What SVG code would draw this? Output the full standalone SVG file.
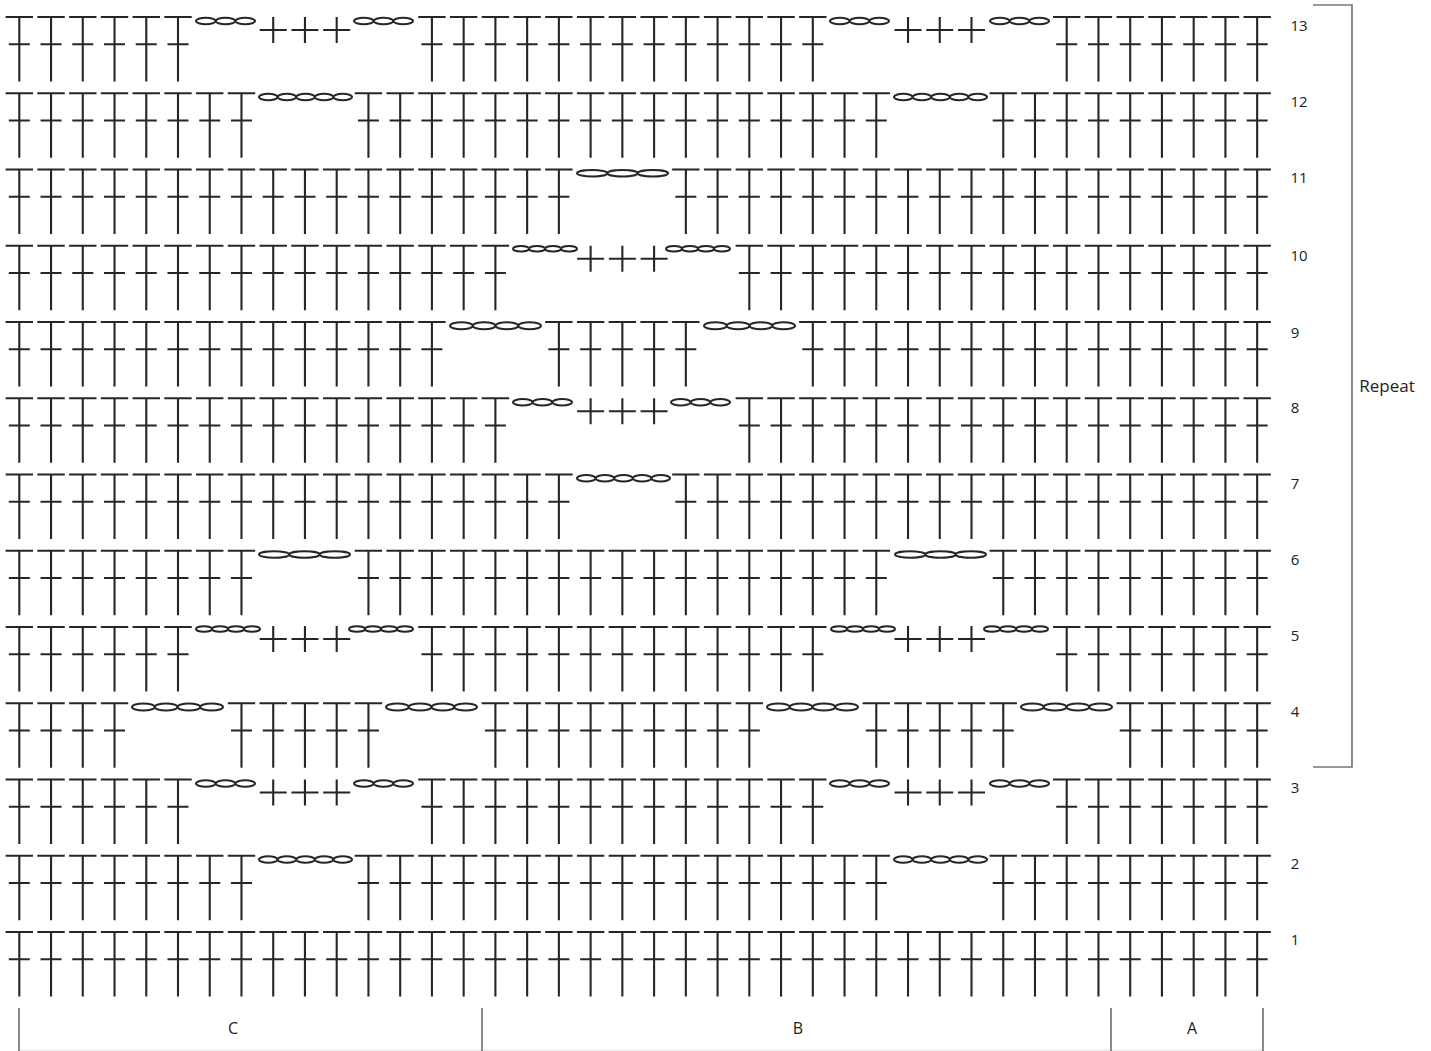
<svg xmlns="http://www.w3.org/2000/svg" width="1431" height="1051" viewBox="0 0 1431 1051">
<style>
.s{fill:none;stroke:#262626;stroke-width:2.1}
.c{fill:none;stroke:#262626;stroke-width:2}
.g{fill:none;stroke:#777;stroke-width:1.7}
.l{fill:none;stroke:#e2e2e2;stroke-width:1}
.row{filter:url(#soft)}
text{font-family:"Open Sans","Noto Sans","Liberation Sans",sans-serif;font-size:15px;fill:#222;text-anchor:middle;dominant-baseline:central}
.big{font-size:16px}
.rep{font-size:17px}
</style>
<defs>
<filter id="soft" x="-2%" y="-10%" width="104%" height="120%"><feGaussianBlur stdDeviation="0.35"/></filter>
<path id="t1" class="s" d="M-13.7 0H13.7M0 0V64.5M-10.5 27.3H10.5"/>
<path id="p" class="s" d="M0 0V26M-13.5 13H13.5"/>
<g id="t2"><use href="#t1"/><use href="#t1" x="31.74"/></g>
<g id="t4"><use href="#t2"/><use href="#t2" x="63.48"/></g>
<g id="t8"><use href="#t4"/><use href="#t4" x="126.96"/></g>
<g id="t16"><use href="#t8"/><use href="#t8" x="253.92"/></g>
<g id="t5"><use href="#t4"/><use href="#t1" x="126.96"/></g>
<g id="t6"><use href="#t4"/><use href="#t2" x="126.96"/></g>
<g id="t7"><use href="#t6"/><use href="#t1" x="190.44"/></g>
<g id="t9"><use href="#t8"/><use href="#t1" x="253.92"/></g>
<g id="t13"><use href="#t8"/><use href="#t5" x="253.92"/></g>
<g id="t14"><use href="#t8"/><use href="#t6" x="253.92"/></g>
<g id="t15"><use href="#t8"/><use href="#t7" x="253.92"/></g>
<g id="t17"><use href="#t16"/><use href="#t1" x="507.84"/></g>
<g id="t18"><use href="#t16"/><use href="#t2" x="507.84"/></g>
<g id="t19"><use href="#t18"/><use href="#t1" x="571.32"/></g>
<g id="t40"><use href="#t16"/><use href="#t16" x="507.84"/><use href="#t8" x="1015.68"/></g>
<g id="p3"><use href="#p"/><use href="#p" x="31.74"/><use href="#p" x="63.48"/></g>
<g id="c3" class="c"><ellipse cx="9.8" cy="0" rx="9.8" ry="3.2"/><ellipse cx="29.5" cy="0" rx="9.8" ry="3.2"/><ellipse cx="49.2" cy="0" rx="9.8" ry="3.2"/></g>
<g id="c3L" class="c"><ellipse cx="15.2" cy="0" rx="15.2" ry="3.2"/><ellipse cx="45.5" cy="0" rx="15.2" ry="3.2"/><ellipse cx="75.8" cy="0" rx="15.2" ry="3.2"/></g>
<g id="c4s" class="c"><ellipse cx="8" cy="0" rx="8" ry="2.8"/><ellipse cx="24" cy="0" rx="8" ry="2.8"/><ellipse cx="40" cy="0" rx="8" ry="2.8"/><ellipse cx="56" cy="0" rx="8" ry="2.8"/></g>
<g id="c4L" class="c"><ellipse cx="11.4" cy="0" rx="11.4" ry="3.5"/><ellipse cx="34.1" cy="0" rx="11.4" ry="3.5"/><ellipse cx="56.9" cy="0" rx="11.4" ry="3.5"/><ellipse cx="79.6" cy="0" rx="11.4" ry="3.5"/></g>
<g id="c5" class="c"><ellipse cx="9.3" cy="0" rx="9.3" ry="3.2"/><ellipse cx="27.9" cy="0" rx="9.3" ry="3.2"/><ellipse cx="46.5" cy="0" rx="9.3" ry="3.2"/><ellipse cx="65.1" cy="0" rx="9.3" ry="3.2"/><ellipse cx="83.7" cy="0" rx="9.3" ry="3.2"/></g>
</defs>
<rect width="1431" height="1051" fill="#fff"/>
<g id="row-13" transform="translate(0,17)"><g class="row"><use href="#t6" x="19.3"/><use href="#c3" x="196" y="4"/><use href="#p3" x="273.22"/><use href="#c3" x="354" y="4"/><use href="#t13" x="431.92"/><use href="#c3" x="830" y="4"/><use href="#p3" x="908.02"/><use href="#c3" x="990" y="4"/><use href="#t7" x="1066.72"/></g><text x="1299" y="8">13</text></g>
<g id="row-12" transform="translate(0,93.25)"><g class="row"><use href="#t8" x="19.3"/><use href="#c5" x="259" y="3.7"/><use href="#t17" x="368.44"/><use href="#c5" x="894" y="3.7"/><use href="#t9" x="1003.24"/></g><text x="1299" y="8">12</text></g>
<g id="row-11" transform="translate(0,169.5)"><g class="row"><use href="#t18" x="19.3"/><use href="#c3L" x="577" y="3.7"/><use href="#t19" x="685.84"/></g><text x="1299" y="7.5">11</text></g>
<g id="row-10" transform="translate(0,245.75)"><g class="row"><use href="#t16" x="19.3"/><use href="#c4s" x="513" y="3"/><use href="#p3" x="590.62"/><use href="#c4s" x="666" y="3"/><use href="#t17" x="749.32"/></g><text x="1299" y="9">10</text></g>
<g id="row-9" transform="translate(0,322)"><g class="row"><use href="#t14" x="19.3"/><use href="#c4L" x="450" y="3.7"/><use href="#t5" x="558.88"/><use href="#c4L" x="704" y="3.7"/><use href="#t15" x="812.8"/></g><text x="1295" y="9.5">9</text></g>
<g id="row-8" transform="translate(0,398.25)"><g class="row"><use href="#t16" x="19.3"/><use href="#c3" x="513" y="4"/><use href="#p3" x="590.62"/><use href="#c3" x="671" y="4"/><use href="#t17" x="749.32"/></g><text x="1295" y="9">8</text></g>
<g id="row-7" transform="translate(0,474.5)"><g class="row"><use href="#t18" x="19.3"/><use href="#c5" x="577" y="3.7"/><use href="#t19" x="685.84"/></g><text x="1295" y="8">7</text></g>
<g id="row-6" transform="translate(0,550.75)"><g class="row"><use href="#t8" x="19.3"/><use href="#c3L" x="259" y="3.7"/><use href="#t17" x="368.44"/><use href="#c3L" x="895" y="3.7"/><use href="#t9" x="1003.24"/></g><text x="1295" y="8">6</text></g>
<g id="row-5" transform="translate(0,627)"><g class="row"><use href="#t6" x="19.3"/><use href="#c4s" x="196" y="2"/><use href="#p3" x="273.22" y="-1"/><use href="#c4s" x="349" y="2"/><use href="#t13" x="431.92"/><use href="#c4s" x="831" y="2"/><use href="#p3" x="908.02" y="-1"/><use href="#c4s" x="984" y="2"/><use href="#t7" x="1066.72"/></g><text x="1295" y="7.5">5</text></g>
<g id="row-4" transform="translate(0,703.25)"><g class="row"><use href="#t4" x="19.3"/><use href="#c4L" x="132" y="3.7"/><use href="#t5" x="241.48"/><use href="#c4L" x="386" y="3.7"/><use href="#t9" x="495.4"/><use href="#c4L" x="767" y="3.7"/><use href="#t5" x="876.28"/><use href="#c4L" x="1021" y="3.7"/><use href="#t5" x="1130.2"/></g><text x="1295" y="7.5">4</text></g>
<g id="row-3" transform="translate(0,779.5)"><g class="row"><use href="#t6" x="19.3"/><use href="#c3" x="196" y="4"/><use href="#p3" x="273.22"/><use href="#c3" x="354" y="4"/><use href="#t13" x="431.92"/><use href="#c3" x="830" y="4"/><use href="#p3" x="908.02"/><use href="#c3" x="990" y="4"/><use href="#t7" x="1066.72"/></g><text x="1295" y="7">3</text></g>
<g id="row-2" transform="translate(0,855.75)"><g class="row"><use href="#t8" x="19.3"/><use href="#c5" x="259" y="3.7"/><use href="#t17" x="368.44"/><use href="#c5" x="894" y="3.7"/><use href="#t9" x="1003.24"/></g><text x="1295" y="7">2</text></g>
<g id="row-1" transform="translate(0,932)"><g class="row"><use href="#t40" x="19.3"/></g><text x="1295" y="6.5">1</text></g>
<g id="repeat"><path class="g" d="M1313 5H1352V767H1313"/><text class="rep" x="1387" y="385.5">Repeat</text></g>
<g id="sections">
<path class="l" d="M19 1050H1263"/>
<path class="g" d="M19 1008V1051M482 1008V1051M1111 1008V1051M1263 1008V1051"/>
<text class="big" x="233" y="1028">C</text><text class="big" x="798" y="1028">B</text><text class="big" x="1192" y="1028">A</text>
</g>
</svg>
